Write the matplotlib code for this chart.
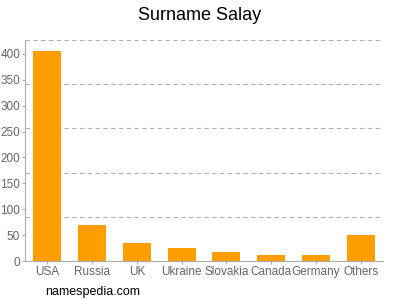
import numpy as np
import matplotlib
matplotlib.use("Agg")
import matplotlib.pyplot as plt

# --- data ---
countries = ["USA", "Russia", "UK", "Ukraine", "Slovakia", "Canada", "Germany", "Others"]
counts = [406, 69, 34, 26, 17, 12, 11, 50]
yticks = [0, 50, 100, 150, 200, 250, 300, 350, 400]

plt.rcParams['font.family'] = ['Liberation Sans', 'DejaVu Sans']

fig = plt.figure(figsize=(4, 3), dpi=100)
ax = fig.add_axes([0.0625, 0.13, 0.895, 0.7367])

x = np.arange(len(countries))
ax.bar(x, counts, width=0.63, color="#ff9e00", zorder=2)

ymax = 427
ax.set_ylim(0, ymax)
ax.set_xlim(-0.5, len(countries) - 0.5)
ax.set_yticks(yticks)
ax.set_xticks(x)
ax.set_xticklabels(countries)

# dashed grid split in 5 equal parts of the axis height
for g in np.linspace(0, ymax, 6)[1:]:
    ax.axhline(g, color="#b0b0b0", linestyle=(0, (4, 3)), linewidth=0.8, zorder=1)

for side in ["top", "right"]:
    ax.spines[side].set_visible(False)
for side in ["left", "bottom"]:
    ax.spines[side].set_color("#aaaaaa")
ax.tick_params(colors="#aaaaaa", labelcolor="#666666", labelsize=8.5, length=2, width=0.8, pad=1.5)

fig.text(0.5, 0.95, "Surname Salay", ha="center", va="center", fontsize=13)
fig.text(0.113, 0.027, "namespedia.com", ha="left", va="center", fontsize=9)

fig.savefig("out.png", dpi=100)
